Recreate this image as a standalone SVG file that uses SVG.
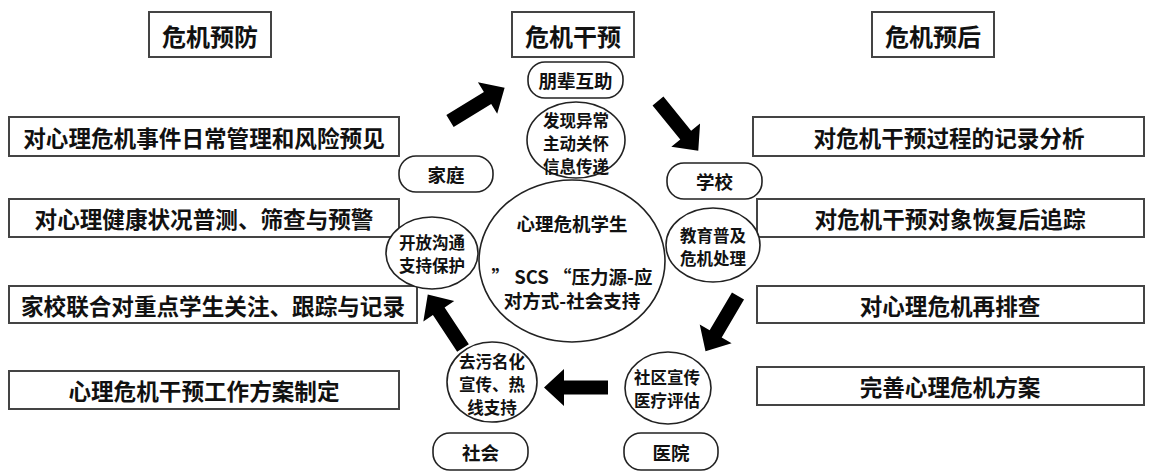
<svg xmlns="http://www.w3.org/2000/svg" width="1153" height="473" viewBox="0 0 1153 473">
<style>
text{font-family:"Noto Sans CJK SC","Noto Sans",sans-serif;font-weight:700;fill:#111;text-anchor:middle;dominant-baseline:central}
.box{fill:#fff;stroke:#444;stroke-width:2}
.hd{font-size:24px}
.bt{font-size:22.6px}
.pill{fill:#fff;stroke:#222;stroke-width:1.6}
.el{fill:#fff;stroke:#222;stroke-width:1.6}
.lb{font-size:18.5px}
.sm{font-size:16.5px}
</style>
<defs>
<path id="arr" d="M0,-7 L44,-7 L44,-18.5 L64,0 L44,18.5 L44,7 L0,7 Z" fill="#000"/>
</defs>
<rect width="1153" height="473" fill="#fff"/>

<g id="h-prevent"><rect class="box" x="149" y="12" width="122" height="45"/><text class="hd" x="210" y="35">危机预防</text></g>
<g id="h-intervene"><rect class="box" x="512" y="12" width="122" height="45"/><text class="hd" x="573" y="35">危机干预</text></g>
<g id="h-after"><rect class="box" x="872" y="12" width="122" height="45"/><text class="hd" x="933" y="35">危机预后</text></g>

<g id="l1"><rect class="box" x="9" y="117" width="390" height="39"/><text class="bt" x="204" y="137">对心理危机事件日常管理和风险预见</text></g>
<g id="l2"><rect class="box" x="9" y="199" width="390" height="38"/><text class="bt" x="204" y="218.5">对心理健康状况普测、筛查与预警</text></g>
<g id="l3"><rect class="box" x="9" y="286" width="408" height="37"/><text class="bt" x="213" y="305">家校联合对重点学生关注、跟踪与记录</text></g>
<g id="l4"><rect class="box" x="9" y="371" width="390" height="38"/><text class="bt" x="204" y="390.5">心理危机干预工作方案制定</text></g>

<g id="r1"><rect class="box" x="753" y="117" width="391" height="39"/><text class="bt" x="949" y="137">对危机干预过程的记录分析</text></g>
<g id="r2"><rect class="box" x="757" y="199" width="387" height="38"/><text class="bt" x="950" y="218.5">对危机干预对象恢复后追踪</text></g>
<g id="r3"><rect class="box" x="757" y="286" width="387" height="37"/><text class="bt" x="950" y="305">对心理危机再排查</text></g>
<g id="r4"><rect class="box" x="757" y="367" width="387" height="38"/><text class="bt" x="950" y="386.5">完善心理危机方案</text></g>

<g id="peer"><rect class="pill" x="528" y="62" width="95" height="36" rx="17"/><text class="lb" x="575.5" y="80">朋辈互助</text></g>
<g id="peer-ell"><ellipse class="el" cx="576" cy="140" rx="49" ry="38"/><text class="sm" x="576" y="120">发现异常</text><text class="sm" x="576" y="143">主动关怀</text><text class="sm" x="576" y="166">信息传递</text></g>
<g id="family"><rect class="pill" x="399" y="156" width="94" height="36" rx="17"/><text class="lb" x="446" y="174">家庭</text></g>
<g id="school"><rect class="pill" x="667" y="163" width="95" height="36" rx="17"/><text class="lb" x="714.5" y="181">学校</text></g>
<g id="student"><ellipse class="el" cx="572" cy="261" rx="93" ry="81"/><text class="lb" x="572" y="223">心理危机学生</text><text class="lb" x="572" y="276">” SCS “压力源-应</text><text class="lb" x="572" y="300">对方式-社会支持</text></g>
<g id="family-ell"><ellipse class="el" cx="432" cy="253" rx="46" ry="36"/><text class="sm" x="432" y="242">开放沟通</text><text class="sm" x="432" y="265">支持保护</text></g>
<g id="school-ell"><ellipse class="el" cx="713" cy="245" rx="47" ry="37"/><text class="sm" x="713" y="235">教育普及</text><text class="sm" x="713" y="258">危机处理</text></g>
<g id="society-ell"><ellipse class="el" cx="492" cy="382" rx="45" ry="40"/><text class="sm" x="492" y="361">去污名化</text><text class="sm" x="492" y="384">宣传、热</text><text class="sm" x="492" y="407">线支持</text></g>
<g id="hospital-ell"><ellipse class="el" cx="668" cy="388" rx="43" ry="36"/><text class="sm" x="667" y="377">社区宣传</text><text class="sm" x="667" y="400">医疗评估</text></g>
<g id="society"><rect class="pill" x="433" y="433" width="95" height="37" rx="17"/><text class="lb" x="480.5" y="452">社会</text></g>
<g id="hospital"><rect class="pill" x="624" y="433" width="94" height="37" rx="17"/><text class="lb" x="671" y="452">医院</text></g>

<g id="connectors">
<use href="#arr" transform="translate(450,121) rotate(-31.4)"/>
<use href="#arr" transform="translate(658,101) rotate(51)"/>
<use href="#arr" transform="translate(738,296) rotate(120.5)"/>
<use href="#arr" transform="translate(608,387.5) rotate(180)"/>
<use href="#arr" transform="translate(463,348) rotate(236.6)"/>
</g>
</svg>
